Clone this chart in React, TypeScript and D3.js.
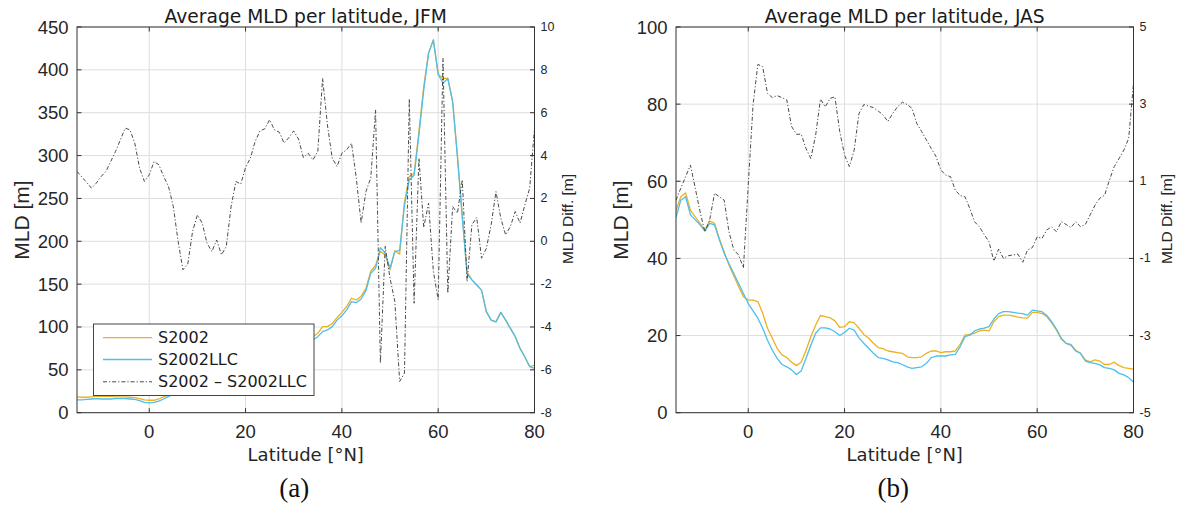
import React from 'react';
import * as d3 from 'd3';

// ---------- DATA ----------
const latitudes = [
  -15, -14, -13, -12, -11, -10, -9, -8, -7, -6, -5, -4, -3, -2, -1, 0, 1, 2, 3, 4,
  5, 6, 7, 8, 9, 10, 11, 12, 13, 14, 15, 16, 17, 18, 19, 20, 21, 22, 23, 24,
  25, 26, 27, 28, 29, 30, 31, 32, 33, 34, 35, 36, 37, 38, 39, 40, 41, 42, 43, 44,
  45, 46, 47, 48, 49, 50, 51, 52, 53, 54, 55, 56, 57, 58, 59, 60, 61, 62, 63, 64,
  65, 66, 67, 68, 69, 70, 71, 72, 73, 74, 75, 76, 77, 78, 79, 80,
];

const jfmS2002 = [
  18.5, 18, 18, 18.5, 19, 19, 19.5, 19, 18.5, 18.5, 18.5, 18, 17.5, 16.5, 15, 14.5, 14.5, 16, 18.5, 21,
  24, 27, 30, 33, 36, 39, 42, 45, 48, 51, 54, 57, 60, 62, 64, 66, 68, 70, 72, 74,
  76, 78, 79, 80, 81, 82, 83, 85, 87, 88.7, 92.6, 100.4, 100.4, 104, 111, 117, 124, 133.5, 131.5, 136,
  145, 165, 172, 188, 184, 166.5, 189, 185, 246, 275.5, 279, 328, 380.5, 419.5, 435, 395, 390, 390, 363, 300,
  230, 164, 155, 149, 143, 118, 108, 106, 117, 108, 98.4, 88.7, 75, 65, 53.7, 55.6,
];

const jfmS2002LLC = [
  15, 15, 15.5, 16, 16.5, 16, 16, 16, 16.5, 16.5, 16.5, 16, 15.5, 14, 12, 11.5, 12, 13.5, 16, 19,
  21.5, 24, 27, 30, 33, 36, 39, 42, 45, 48, 51, 54, 57, 59, 61, 63, 65, 67, 69, 71,
  73, 75, 76, 77, 78, 79, 80, 82, 84, 84.8, 88.7, 94.6, 96.5, 100.4, 108, 113, 120, 129.6, 128.4, 132.7,
  142.4, 162.6, 168.5, 192.6, 186, 168.5, 188, 189.5, 242, 271.6, 277, 324, 376.6, 419.5, 435, 395, 384.4, 390, 363, 298,
  228, 162, 155, 149, 143, 118, 108, 106, 117, 108, 98.4, 88.7, 75, 65, 53.7, 51.8,
];

const jfmDiff = [
  3.26, 3.0, 2.75, 2.48, 2.71, 3.02, 3.26, 3.72, 4.19, 4.73, 5.28, 5.2, 4.58, 3.41, 2.79, 3.1, 3.72, 3.57, 3.02, 2.56,
  1.62, -0.01, -1.33, -1.07, 0.46, 1.23, 0.85, -0.09, -0.48, 0.06, -0.63, -0.24, 1.62, 2.79, 2.67, 3.44, 3.88, 4.66, 5.15, 5.25,
  5.67, 5.2, 5.09, 4.58, 4.84, 5.15, 4.77, 3.91, 4.11, 3.8, 4.19, 7.61, 5.43, 3.88, 3.49, 4.11, 4.27, 4.58, 2.95, 0.85,
  2.32, 2.95, 6.13, -5.69, -0.24, -1.72, -2.81, -6.54, -6.15, 6.65, -2.89, 3.88, 0.64, 1.78, -1.41, -2.73, 8.54, -2.42, 1.62, 1.31,
  2.87, -1.88, 0.77, 1.11, -0.79, -0.33, 0.77, 2.32, 1.08, 0.3, 0.69, 1.39, 0.85, 1.7, 2.48, 5.28,
];

const jasS2002 = [
  52.5, 56, 57, 52.5, 50.8, 49.1, 47.4, 49.7, 49.1, 45.2, 41.7, 38.3, 35.5, 32.7, 30.1, 29.2, 29.2, 28.8, 25.8, 21.9,
  19.3, 16.7, 15, 14.3, 13.1, 12.2, 13.1, 16.2, 19.7, 22.7, 25.2, 24.9, 24.6, 23.8, 22.1, 22.3, 23.6, 23.3, 21.9, 20.3,
  19.3, 18, 16.9, 16.6, 16, 15.8, 15.6, 15.4, 14.5, 14.3, 14.3, 14.5, 15.4, 16, 16, 15.6, 15.8, 15.8, 16, 17.7,
  20.1, 20.3, 20.6, 21.2, 21.4, 21.2, 23.6, 24.9, 25.3, 25.3, 25.1, 24.8, 24.6, 24.5, 26, 26, 25.7, 24.9, 23.3, 21.4,
  19.1, 18, 17.7, 16.2, 15.4, 13.7, 13.2, 13.7, 13.4, 12.5, 12.5, 13.1, 12.2, 11.7, 11.5, 11.3,
];

const jasS2002LLC = [
  50.6, 55.1, 56, 51.3, 50, 48.7, 47.1, 49.1, 48.7, 44.8, 41.3, 38.7, 36.1, 33.5, 30.9, 28.3, 26.4, 24.5, 21.9, 18.8,
  16.2, 14.1, 12.5, 11.9, 11.1, 9.9, 10.8, 14.1, 17.5, 20.6, 22, 22, 21.7, 21, 20, 20.8, 21.9, 21.4, 19.4, 18,
  16.7, 15.4, 14.3, 14.1, 13.7, 13.2, 13, 12.5, 11.9, 11.5, 11.7, 11.9, 12.8, 14.3, 14.7, 14.7, 14.7, 15, 15.1, 17.1,
  19.7, 20.1, 21.2, 21.7, 21.9, 22.3, 24.3, 25.7, 26.2, 26.2, 26, 25.8, 25.7, 25.3, 26.6, 26.4, 26.2, 25.2, 23.6, 21.7,
  19.3, 18, 17.5, 16, 15.4, 13.4, 13, 12.8, 12.4, 11.7, 11.5, 11.1, 10.2, 9.8, 9.1, 7.9,
];

const jasDiff = [
  0.51, 0.82, 1.12, 1.42, 0.82, 0.21, -0.31, 0.0, 0.69, 0.6, 0.51, -0.31, -0.78, -0.91, -1.25, 0.9, 2.98, 4.03, 3.97, 3.28,
  3.17, 3.22, 3.17, 3.11, 2.42, 2.22, 2.22, 1.85, 1.59, 2.2, 3.13, 2.93, 3.15, 3.19, 2.29, 1.68, 1.38, 1.81, 2.76, 2.99,
  2.95, 2.91, 2.82, 2.72, 2.55, 2.76, 2.93, 3.05, 2.99, 2.89, 2.5, 2.29, 2.07, 1.85, 1.64, 1.29, 1.16, 1.12, 0.77, 0.63,
  0.6, 0.3, -0.05, -0.18, -0.38, -0.57, -1.07, -0.76, -1.0, -0.93, -0.91, -0.89, -1.1, -0.78, -0.72, -0.44, -0.48, -0.26, -0.18, -0.31,
  -0.05, -0.12, -0.2, -0.05, -0.18, -0.12, 0.13, 0.38, 0.56, 0.64, 1.03, 1.38, 1.59, 1.81, 2.11, 3.54,
];

const xTicks = [0, 20, 40, 60, 80];
const jfmLeftTicks = [0, 50, 100, 150, 200, 250, 300, 350, 400, 450];
const jfmRightTicks = [-8, -6, -4, -2, 0, 2, 4, 6, 8, 10];
const jasLeftTicks = [0, 20, 40, 60, 80, 100];
const jasRightTicks = [-5, -3, -1, 1, 3, 5];
const legendLabels = ['S2002', 'S2002LLC', 'S2002 \u2013 S2002LLC'];

// ---------- STYLE ----------
const ORANGE = '#EDB120';
const BLUE = '#4DBEEE';
const DIFF = '#4a4a4a';
const AXIS = '#333333';
const GRID = '#dedede';
const NUM_FONT = '"Liberation Sans", Arial, Helvetica, sans-serif';
const TXT_FONT = '"DejaVu Sans", sans-serif';

type PanelProps = {
  id: string;
  x0: number;
  x1: number;
  title: string;
  leftDomain: [number, number];
  leftTicks: number[];
  rightDomain: [number, number];
  rightTicks: number[];
  s2002: number[];
  llc: number[];
  diff: number[];
  caption: string;
  legend: boolean;
};

const Y_TOP = 27;
const Y_BOT = 412.7;
const TICK = 4.5;

function Panel(p: PanelProps) {
  const x = d3.scaleLinear().domain([-15, 80]).range([p.x0, p.x1]);
  const yL = d3.scaleLinear().domain(p.leftDomain).range([Y_BOT, Y_TOP]);
  const yR = d3.scaleLinear().domain(p.rightDomain).range([Y_BOT, Y_TOP]);
  const lineL = d3
    .line<number>()
    .x((_, i) => x(latitudes[i]))
    .y((v) => yL(v));
  const lineR = d3
    .line<number>()
    .x((_, i) => x(latitudes[i]))
    .y((v) => yR(v));
  const mid = (p.x0 + p.x1) / 2;
  const clipId = `clip-${p.id}`;

  const lg = { x: p.x0 + 16.5, y: 324, w: 220.5, h: 71.5 };
  const rowY = [337.7, 359.5, 381.8];

  return (
    <g>
      <defs>
        <clipPath id={clipId}>
          <rect x={p.x0} y={Y_TOP} width={p.x1 - p.x0} height={Y_BOT - Y_TOP} />
        </clipPath>
      </defs>
      <rect x={p.x0} y={Y_TOP} width={p.x1 - p.x0} height={Y_BOT - Y_TOP} fill="#fff" />
      {xTicks.map((t) => (
        <line key={'gx' + t} x1={x(t)} x2={x(t)} y1={Y_TOP} y2={Y_BOT} stroke={GRID} strokeWidth={1} />
      ))}
      {p.leftTicks.map((t) => (
        <line key={'gy' + t} x1={p.x0} x2={p.x1} y1={yL(t)} y2={yL(t)} stroke={GRID} strokeWidth={1} />
      ))}
      <g clipPath={`url(#${clipId})`} fill="none">
        <path d={lineL(p.s2002) || ''} stroke={ORANGE} strokeWidth={1.3} strokeLinejoin="round" />
        <path d={lineL(p.llc) || ''} stroke={BLUE} strokeWidth={1.3} strokeLinejoin="round" />
        <path
          d={lineR(p.diff) || ''}
          stroke={DIFF}
          strokeWidth={1}
          strokeDasharray="4,2,1.2,2"
          strokeLinejoin="round"
        />
      </g>
      <rect
        x={p.x0}
        y={Y_TOP}
        width={p.x1 - p.x0}
        height={Y_BOT - Y_TOP}
        fill="none"
        stroke={AXIS}
        strokeWidth={1}
      />
      {xTicks.map((t) => (
        <g key={'xt' + t}>
          <line x1={x(t)} x2={x(t)} y1={Y_BOT} y2={Y_BOT - TICK} stroke={AXIS} />
          <line x1={x(t)} x2={x(t)} y1={Y_TOP} y2={Y_TOP + TICK} stroke={AXIS} />
          <text
            x={x(t)}
            y={431}
            textAnchor="middle"
            dominantBaseline="central"
            fontFamily={NUM_FONT}
            fontSize={18.5}
            fill="#262626"
          >
            {t}
          </text>
        </g>
      ))}
      {p.leftTicks.map((t) => (
        <g key={'lt' + t}>
          <line x1={p.x0} x2={p.x0 + TICK} y1={yL(t)} y2={yL(t)} stroke={AXIS} />
          <text
            x={p.x0 - 8.5}
            y={yL(t)}
            textAnchor="end"
            dominantBaseline="central"
            fontFamily={NUM_FONT}
            fontSize={18.5}
            fill="#262626"
          >
            {t}
          </text>
        </g>
      ))}
      {p.rightTicks.map((t) => (
        <g key={'rt' + t}>
          <line x1={p.x1} x2={p.x1 - TICK} y1={yR(t)} y2={yR(t)} stroke={AXIS} />
          <text
            x={p.x1 + 6}
            y={yR(t)}
            textAnchor="start"
            dominantBaseline="central"
            fontFamily={NUM_FONT}
            fontSize={12.5}
            fill="#262626"
          >
            {t}
          </text>
        </g>
      ))}
      <text x={mid} y={22.5} textAnchor="middle" fontFamily={TXT_FONT} fontSize={18.7} fill="#1a1a1a">
        {p.title}
      </text>
      <text x={mid} y={461} textAnchor="middle" fontFamily={TXT_FONT} fontSize={18} fill="#262626">
        Latitude [°N]
      </text>
      <text
        transform={`translate(${p.x0 - 55.5},220) rotate(-90)`}
        textAnchor="middle"
        dominantBaseline="central"
        fontFamily={NUM_FONT}
        fontSize={21}
        fill="#262626"
      >
        MLD [m]
      </text>
      <text
        transform={`translate(${p.x1 + 33},219) rotate(-90)`}
        textAnchor="middle"
        dominantBaseline="central"
        fontFamily={NUM_FONT}
        fontSize={15.5}
        fill="#262626"
      >
        MLD Diff. [m]
      </text>
      <text
        x={mid - 11.5}
        y={497}
        textAnchor="middle"
        fontFamily='"Liberation Serif", "DejaVu Serif", serif'
        fontSize={27}
        fill="#111"
      >
        {p.caption}
      </text>
      {p.legend && (
        <g>
          <rect x={lg.x} y={lg.y} width={lg.w} height={lg.h} fill="#fff" stroke="#444" strokeWidth={1} />
          {legendLabels.map((lab, i) => (
            <g key={lab}>
              <line
                x1={lg.x + 9.5}
                x2={lg.x + 58.5}
                y1={rowY[i]}
                y2={rowY[i]}
                stroke={i === 0 ? ORANGE : i === 1 ? BLUE : DIFF}
                strokeWidth={i === 2 ? 1 : 1.3}
                strokeDasharray={i === 2 ? '4,2,1.2,2' : undefined}
              />
              <text
                x={lg.x + 64.5}
                y={rowY[i]}
                dominantBaseline="central"
                fontFamily={TXT_FONT}
                fontSize={16}
                fill="#1a1a1a"
              >
                {lab}
              </text>
            </g>
          ))}
        </g>
      )}
    </g>
  );
}

export default function App() {
  return (
    <svg
      width={1177}
      height={510}
      viewBox="0 0 1177 510"
      style={{ position: 'absolute', left: 0, top: 0, background: '#fff' }}
    >
      <rect x={0} y={0} width={1177} height={510} fill="#fff" />
      <Panel
        id="jfm"
        x0={77}
        x1={534.5}
        title="Average MLD per latitude, JFM"
        leftDomain={[0, 450]}
        leftTicks={jfmLeftTicks}
        rightDomain={[-8, 10]}
        rightTicks={jfmRightTicks}
        s2002={jfmS2002}
        llc={jfmS2002LLC}
        diff={jfmDiff}
        caption="(a)"
        legend={true}
      />
      <Panel
        id="jas"
        x0={676}
        x1={1133.5}
        title="Average MLD per latitude, JAS"
        leftDomain={[0, 100]}
        leftTicks={jasLeftTicks}
        rightDomain={[-5, 5]}
        rightTicks={jasRightTicks}
        s2002={jasS2002}
        llc={jasS2002LLC}
        diff={jasDiff}
        caption="(b)"
        legend={false}
      />
    </svg>
  );
}
